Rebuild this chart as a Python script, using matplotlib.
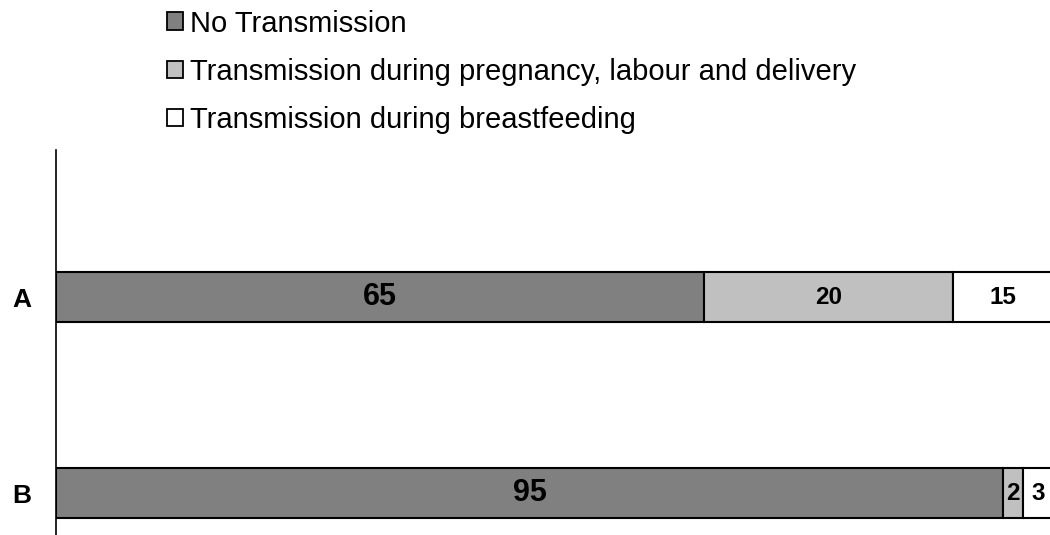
import matplotlib
matplotlib.use("Agg")
import matplotlib.pyplot as plt
from matplotlib.patches import Patch

plt.rcParams['font.family'] = ['Liberation Sans', 'DejaVu Sans']

categories = ["B", "A"]
series_names = ["No Transmission",
                "Transmission during pregnancy, labour and delivery",
                "Transmission during breastfeeding"]
# segment lengths as drawn in the picture
no_trans = [95, 65]
preg = [2, 25]
breast = [3, 10]
# value labels printed on the segments
no_trans_lbl = ["95", "65"]
preg_lbl = ["2", "20"]
breast_lbl = ["3", "15"]
colors = ["#808080", "#C0C0C0", "#FFFFFF"]

W, H = 1050, 535
fig = plt.figure(figsize=(W / 100, H / 100), dpi=100)
ax = fig.add_axes([56 / W, 0.0, (1053 - 56) / W, (535 - 150) / H])

ypos = [0, 1]
left = [0, 0]
series = [no_trans, preg, breast]
labels = [no_trans_lbl, preg_lbl, breast_lbl]
for i, (name, vals, lbls, col) in enumerate(zip(series_names, series, labels, colors)):
    ax.barh(ypos, vals, left=left, height=0.255, color=col,
            edgecolor="black", linewidth=1.5, label=name)
    for y, v, l, t in zip(ypos, vals, left, lbls):
        fs = 22 if i == 0 else 17.5
        ax.text(l + v / 2, y, t, ha="center", va="center",
                fontsize=fs, fontweight="bold", color="black")
    left = [a + b for a, b in zip(left, vals)]

ax.set_xlim(0, 100)
ax.set_ylim(-0.214, 1.75)
ax.set_yticks(ypos)
ax.set_yticklabels(categories, fontsize=19, fontweight="bold")
ax.tick_params(axis="y", length=0, pad=18)
ax.set_xticks([])
for s in ["top", "right", "bottom"]:
    ax.spines[s].set_visible(False)
ax.spines["left"].set_linewidth(1.2)

handles = [Patch(facecolor=c, edgecolor="black", linewidth=1.3) for c in colors]
fig.legend(handles, series_names, loc="upper left",
           bbox_to_anchor=(149 / W, 1 + 8 / H), frameon=False,
           fontsize=21, handlelength=0.55, handleheight=0.55,
           handletextpad=0.24, labelspacing=0.69, borderpad=0.1)

fig.savefig("out.png", dpi=100)
